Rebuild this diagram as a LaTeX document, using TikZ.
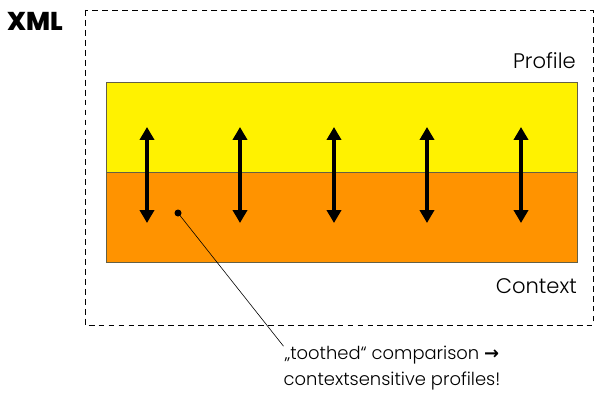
\documentclass[tikz,border=0pt]{standalone}
\usepackage{fontspec}
\setmainfont{Poppins}[UprightFont=* Light, BoldFont=* Bold]
\newfontfamily\arrowfont{DejaVu Sans}
\newfontfamily\heavyfont{Poppins ExtraBold}
\usetikzlibrary{positioning}
\usetikzlibrary{arrows.meta}

\tikzset{
  layer/.style={draw=black!70!yellow, line width=.6pt},
  tooth/.style={{Triangle[length=11pt,width=12pt]}-{Triangle[length=11pt,width=12pt]}, line width=3.6pt},
  lbl/.style={font=\fontsize{18}{20}\selectfont, inner sep=0pt}
}

\begin{document}
\begin{tikzpicture}[x=0.03cm,y=-0.03cm]
\useasboundingbox (0,0) rectangle (596,396);
\draw[dashed, line width=.8pt, dash pattern=on 5pt off 3.5pt] (85,10) rectangle (593,325);
\fill[yellow, layer] (106,82) rectangle (577,172);
\fill[orange!85!yellow, layer] (106,172) rectangle (577,262);
\draw[layer] (106,82) rectangle (577,262);
\node[font=\heavyfont\fontsize{22}{24}\selectfont, inner sep=0pt] (xml) at (35,21) {XML};
\node[lbl, anchor=base east] (profile) at (576,69) {Profile};
\node[lbl, anchor=base east] (context) at (577,293) {Context};
% toothed arrows
\foreach \x in {147,240,334,427,521}
  \draw[tooth] (\x,127) -- (\x,223);
\fill (178,213) circle(3.5) coordinate (dot);
\node[font=\fontsize{15.3}{21.5}\selectfont, align=center, inner sep=0pt] (note) at (392,368)
  {„toothed“ comparison {\arrowfont\bfseries →}\\contextsensitive profiles!};
\draw[line width=.5pt] (dot) -- (note.north west);
\end{tikzpicture}
\end{document}
